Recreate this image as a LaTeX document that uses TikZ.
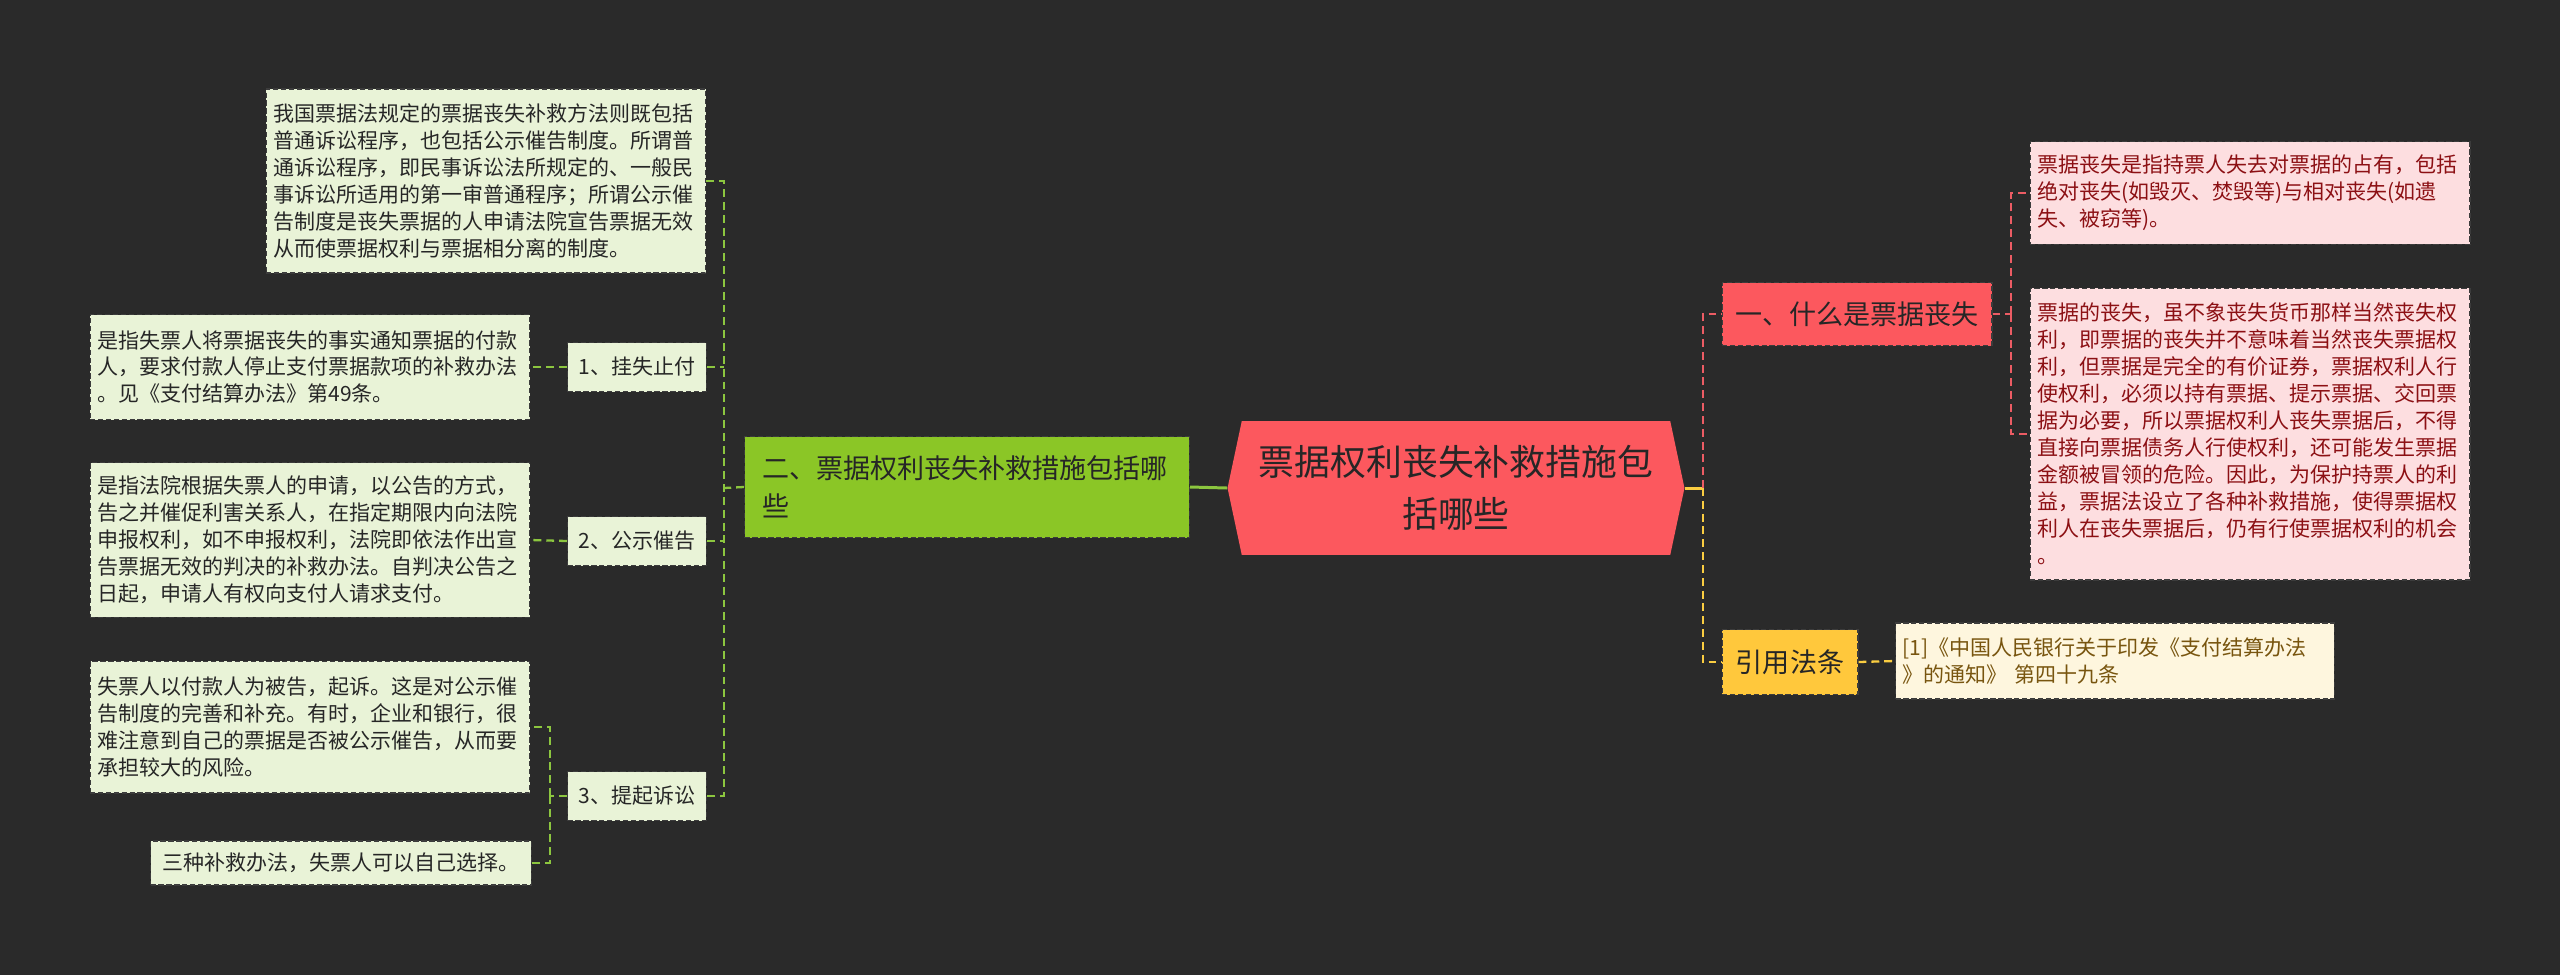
\documentclass[tikz,border=0pt]{standalone}
\usepackage{fontspec}
\setmainfont{Noto Sans CJK SC}
\usetikzlibrary{shapes.symbols}

\definecolor{bgdark}{RGB}{42,42,42}
\definecolor{leaffill}{RGB}{233,243,215}
\definecolor{boxedge}{RGB}{60,60,60}
\definecolor{darktext}{RGB}{38,38,38}
\definecolor{branchgreen}{RGB}{139,198,38}
\definecolor{centrered}{RGB}{252,88,94}
\definecolor{pinkfill}{RGB}{253,222,224}
\definecolor{pinktext}{RGB}{140,16,20}
\definecolor{yellowfill}{RGB}{255,200,60}
\definecolor{creamfill}{RGB}{254,246,222}
\definecolor{browntext}{RGB}{120,85,15}
\definecolor{linegreen}{RGB}{140,198,63}
\definecolor{linered}{RGB}{236,92,100}
\definecolor{lineyellow}{RGB}{250,205,65}

\begin{document}
\begin{tikzpicture}[x=0.02cm, y=-0.02cm,
    smallfont/.style={font=\fontsize{11.95}{15.36}\selectfont},
    leaf/.style={draw=boxedge, fill=leaffill, text=darktext, smallfont,
      dash pattern=on 3pt off 1.5pt, line width=0.6pt, inner sep=0pt},
    note/.style={leaf, align=left, text width=8.5cm, minimum width=8.8cm},
    subbranch/.style={leaf, align=center, minimum width=2.78cm, minimum height=0.98cm},
    branch/.style={draw=boxedge, dash pattern=on 3pt off 1.5pt, line width=0.6pt,
      text=darktext, inner sep=0pt, font=\fontsize{15.4}{21.3}\selectfont},
    gline/.style={draw=linegreen, line width=1.3pt, dash pattern=on 4.5pt off 2.8pt},
    rline/.style={draw=linered, line width=1.3pt, dash pattern=on 4.5pt off 2.8pt},
    yline/.style={draw=lineyellow, line width=1.3pt, dash pattern=on 4.5pt off 2.8pt}]

    % Background
    \fill[bgdark] (0,0) rectangle (2560,975);
    \useasboundingbox (0,0) rectangle (2560,975);

    % Centre node
    \node[signal, signal to=west and east, signal pointer angle=156, fill=centrered,
      text=darktext, align=center, inner sep=0pt, minimum width=9.14cm, minimum height=2.68cm,
      font=\fontsize{20.4}{29.6}\selectfont] (centre) at (1456,488)
      {票据权利丧失补救措施包\\括哪些};

    % Left branch
    \node[branch, fill=branchgreen, align=left, text width=8.2cm, minimum width=8.9cm,
      minimum height=2.02cm] (remedy) at (967,487)
      {二、票据权利丧失补救措施包括哪\\些};

    \node[note, minimum height=3.68cm] (lawnote) at (486,181)
      {我国票据法规定的票据丧失补救方法则既包括\\
       普通诉讼程序，也包括公示催告制度。所谓普\\
       通诉讼程序，即民事诉讼法所规定的、一般民\\
       事诉讼所适用的第一审普通程序；所谓公示催\\
       告制度是丧失票据的人申请法院宣告票据无效\\
       从而使票据权利与票据相分离的制度。};

    \node[subbranch] (stoppay) at (637,367) {1、挂失止付};
    \node[subbranch] (notice) at (637,541) {2、公示催告};
    \node[subbranch] (lawsuit) at (637,796) {3、提起诉讼};

    \node[note, minimum height=2.1cm] (stopnote) at (310,367)
      {是指失票人将票据丧失的事实通知票据的付款\\
       人，要求付款人停止支付票据款项的补救办法\\
       。见《支付结算办法》第49条。};
    \node[note, minimum height=3.1cm] (noticenote) at (310,540)
      {是指法院根据失票人的申请，以公告的方式，\\
       告之并催促利害关系人，在指定期限内向法院\\
       申报权利，如不申报权利，法院即依法作出宣\\
       告票据无效的判决的补救办法。自判决公告之\\
       日起，申请人有权向支付人请求支付。};
    \node[note, minimum height=2.64cm] (suitnote) at (310,727)
      {失票人以付款人为被告，起诉。这是对公示催\\
       告制度的完善和补充。有时，企业和银行，很\\
       难注意到自己的票据是否被公示催告，从而要\\
       承担较大的风险。};
    \node[leaf, minimum width=7.62cm, minimum height=0.88cm] (choice) at (341,863)
      {三种补救办法，失票人可以自己选择。};

    % Right branches
    \node[branch, fill=centrered, minimum width=5.4cm, minimum height=1.26cm] (whatloss) at (1857,314)
      {一、什么是票据丧失};
    \node[branch, fill=yellowfill, minimum width=2.72cm, minimum height=1.3cm] (lawref) at (1790,662)
      {引用法条};

    \node[note, fill=pinkfill, text=pinktext, minimum height=2.06cm] (lossdef) at (2250,193)
      {票据丧失是指持票人失去对票据的占有，包括\\
       绝对丧失(如毁灭、焚毁等)与相对丧失(如遗\\
       失、被窃等)。};
    \node[note, fill=pinkfill, text=pinktext, minimum height=5.84cm] (lossmean) at (2250,434)
      {票据的丧失，虽不象丧失货币那样当然丧失权\\
       利，即票据的丧失并不意味着当然丧失票据权\\
       利，但票据是完全的有价证券，票据权利人行\\
       使权利，必须以持有票据、提示票据、交回票\\
       据为必要，所以票据权利人丧失票据后，不得\\
       直接向票据债务人行使权利，还可能发生票据\\
       金额被冒领的危险。因此，为保护持票人的利\\
       益，票据法设立了各种补救措施，使得票据权\\
       利人在丧失票据后，仍有行使票据权利的机会\\
       。};
    \node[note, fill=creamfill, text=browntext, minimum width=8.78cm, minimum height=1.52cm] (article) at (2115,661)
      {[1]《中国人民银行关于印发《支付结算办法\\
       》的通知》 第四十九条};

    % Junction points
    \coordinate (leftbus) at (724,488);
    \coordinate (suitbus) at (550,796);
    \coordinate (rightbus) at (1703,488);
    \coordinate (lossbus) at (2011,314);

    % Connectors, left side
    \draw[draw=linegreen, line width=1.7pt] (remedy.east) -- (centre.west);
    \draw[gline] (lawnote.east) -- (lawnote.east -| leftbus) |- (lawsuit.east);
    \draw[gline] (stoppay.east) -- (stoppay.east -| leftbus);
    \draw[gline] (notice.east) -- (notice.east -| leftbus);
    \draw[gline] (remedy.west) -- (leftbus);
    \draw[gline] (stoppay.west) -- (stopnote.east);
    \draw[gline] (notice.west) -- (noticenote.east);
    \draw[gline] (lawsuit.west) -- (suitbus);
    \draw[gline] (suitbus) |- (suitnote.east);
    \draw[gline] (suitbus) |- (choice.east);

    % Connectors, right side
    \draw[draw=lineyellow, line width=1.7pt] (centre.east) -- (rightbus);
    \draw[rline] (rightbus) |- (whatloss.west);
    \draw[yline] (rightbus) |- (lawref.west);
    \draw[rline] (whatloss.east) -- (lossbus);
    \draw[rline] (lossbus) |- (lossdef.west);
    \draw[rline] (lossbus) |- (lossmean.west);
    \draw[yline] (lawref.east) -- (article.west);

\end{tikzpicture}
\end{document}
